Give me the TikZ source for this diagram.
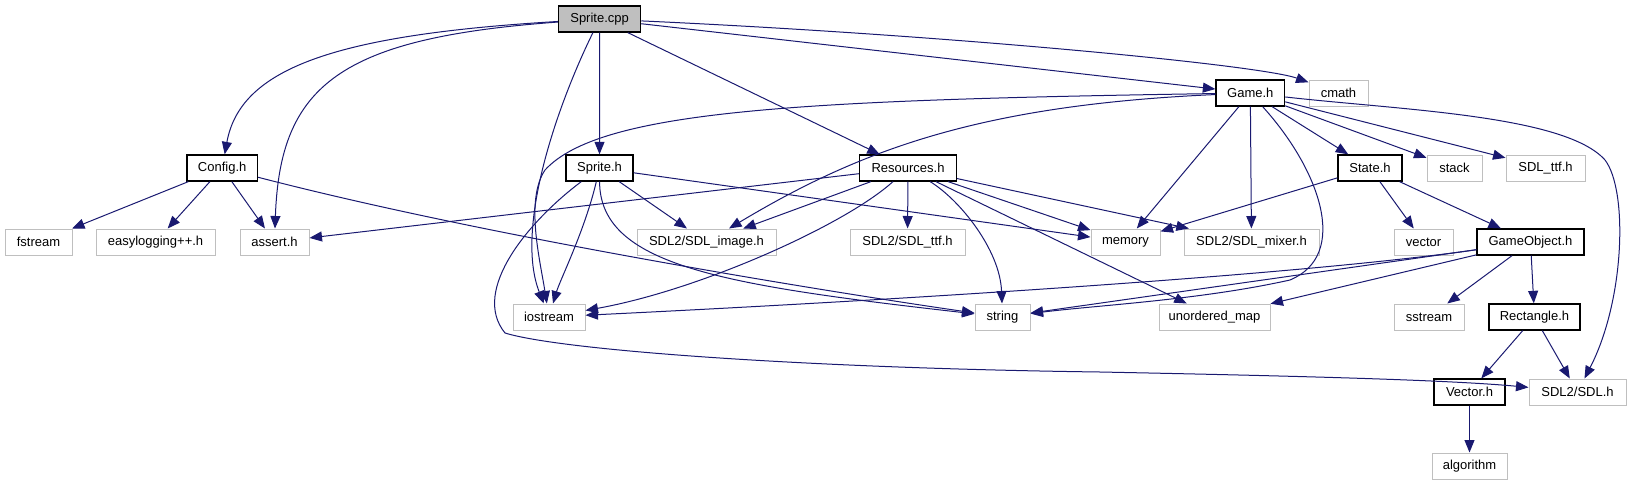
\documentclass[tikz,border=0pt]{standalone}
\usepackage{fontspec}
\setmainfont{Liberation Sans}
\usetikzlibrary{arrows.meta}
\definecolor{edgeblue}{HTML}{191970}
\definecolor{leafgray}{HTML}{BFBFBF}
\begin{document}
\begin{tikzpicture}[x=1pt,y=-1pt,
  box/.style={draw, rectangle, minimum height=26pt, inner sep=0pt, font=\fontsize{13}{15}\selectfont, line width=1pt},
  docbox/.style={box, draw=black, line width=1.3pt},
  leafbox/.style={box, draw=leafgray},
  rootbox/.style={box, draw=black, fill=leafgray, line width=1.3pt},
  edge/.style={draw=edgeblue, line width=1pt, -{Triangle[length=12.5pt,width=10pt]}}]
\useasboundingbox (0,0) rectangle (1631,485);
% row 0
\node[rootbox, minimum width=82pt] (spritecpp) at (599.6,19) {Sprite.cpp};
% row 1
\node[docbox, minimum width=68.6pt] (gameh) at (1250.3,93) {Game.h};
\node[leafbox, minimum width=59pt] (cmath) at (1338.5,93) {cmath};
% row 2
\node[docbox, minimum width=70.5pt] (config) at (222.2,168) {Config.h};
\node[docbox, minimum width=67pt] (spriteh) at (599.5,168) {Sprite.h};
\node[docbox, minimum width=97pt] (resources) at (908,168) {Resources.h};
\node[docbox, minimum width=64pt] (stateh) at (1370,168) {State.h};
\node[leafbox, minimum width=55pt] (stack) at (1454.5,168) {stack};
\node[leafbox, minimum width=79pt] (sdlttfh) at (1545.5,168) {SDL\_ttf.h};
% row 3
\node[leafbox, minimum width=67pt] (fstream) at (38.5,242) {fstream};
\node[leafbox, minimum width=119pt] (easylog) at (155.5,242) {easylogging++.h};
\node[leafbox, minimum width=69pt] (assert) at (274.5,242) {assert.h};
\node[leafbox, minimum width=139pt] (sdlimage) at (706.5,242) {SDL2/SDL\_image.h};
\node[leafbox, minimum width=115pt] (sdlttf) at (907.5,242) {SDL2/SDL\_ttf.h};
\node[leafbox, minimum width=69pt] (memory) at (1125.5,242) {memory};
\node[leafbox, minimum width=135pt] (mixer) at (1251.5,242) {SDL2/SDL\_mixer.h};
\node[leafbox, minimum width=59pt] (vector) at (1423.5,242) {vector};
\node[docbox, minimum width=107pt] (gameobject) at (1530.5,242) {GameObject.h};
% row 4
\node[leafbox, minimum width=72pt] (iostream) at (549,317) {iostream};
\node[leafbox, minimum width=55pt] (string) at (1002.5,317) {string};
\node[leafbox, minimum width=111pt] (unorderedmap) at (1214.5,317) {unordered\_map};
\node[leafbox, minimum width=70pt] (sstream) at (1429,317) {sstream};
\node[docbox, minimum width=91pt] (rectangle) at (1534.5,317) {Rectangle.h};
% row 5
\node[docbox, minimum width=71pt] (vectorh) at (1469.5,392) {Vector.h};
\node[leafbox, minimum width=97pt] (sdl) at (1577.5,392) {SDL2/SDL.h};
% row 6
\node[leafbox, minimum width=75pt] (algorithm) at (1469.5,466) {algorithm};

% Sprite.cpp
\draw[edge] (spritecpp) .. controls (330,35) and (240,70) .. (config);
\draw[edge] (spritecpp) .. controls (340,38) and (280,85) .. (assert);
\draw[edge] (spritecpp) .. controls (555,110) and (515,230) .. (iostream);
\draw[edge] (spritecpp) -- (spriteh);
\draw[edge] (spritecpp) -- (resources);
\draw[edge] (spritecpp) -- (gameh);
\draw[edge] (spritecpp) .. controls (950,35) and (1260,65) .. (cmath);
% Game.h
\draw[edge] (gameh) .. controls (800,100) and (600,110) .. (545,170) .. controls (525,200) and (540,260) .. (iostream);
\draw[edge] (gameh) .. controls (980,105) and (860,150) .. (sdlimage);
\draw[edge] (gameh) -- (memory);
\draw[edge] (gameh) -- (mixer);
\draw[edge] (gameh) .. controls (1320,170) and (1350,255) .. (1290,280) .. controls (1200,300) and (1100,305) .. (string);
\draw[edge] (gameh) -- (stateh);
\draw[edge] (gameh) -- (stack);
\draw[edge] (gameh) -- (sdlttfh);
\draw[edge] (gameh) .. controls (1400,110) and (1565,115) .. (1605,160) .. controls (1628,190) and (1625,300) .. (sdl);
% Sprite.h
\draw[edge] (spriteh) -- (sdlimage);
\draw[edge] (spriteh) -- (memory);
\draw[edge] (spriteh) .. controls (600,265) and (720,285) .. (string);
\draw[edge] (spriteh) .. controls (585,230) and (560,280) .. (iostream);
\draw[edge] (spriteh) .. controls (530,220) and (470,290) .. (505,333) .. controls (560,350) and (800,368) .. (1100,372) .. controls (1300,376) and (1450,380) .. (sdl);
% Resources.h
\draw[edge] (resources) -- (assert);
\draw[edge] (resources) -- (sdlimage);
\draw[edge] (resources) -- (sdlttf);
\draw[edge] (resources) .. controls (845,225) and (700,290) .. (iostream);
\draw[edge] (resources) -- (memory);
\draw[edge] (resources) -- (mixer);
\draw[edge] (resources) .. controls (960,200) and (1000,250) .. (string);
\draw[edge] (resources) -- (unorderedmap);
% Config.h
\draw[edge] (config) -- (fstream);
\draw[edge] (config) -- (easylog);
\draw[edge] (config) -- (assert);
\draw[edge] (config) .. controls (500,240) and (850,295) .. (string);
% State.h
\draw[edge] (stateh) -- (memory);
\draw[edge] (stateh) -- (vector);
\draw[edge] (stateh) -- (gameobject);
% GameObject.h
\draw[edge] (gameobject) .. controls (1300,275) and (900,300) .. (iostream);
\draw[edge] (gameobject) -- (string);
\draw[edge] (gameobject) -- (unorderedmap);
\draw[edge] (gameobject) -- (sstream);
\draw[edge] (gameobject) -- (rectangle);
% Rectangle.h
\draw[edge] (rectangle) -- (vectorh);
\draw[edge] (rectangle) -- (sdl);
% Vector.h
\draw[edge] (vectorh) -- (algorithm);
\end{tikzpicture}
\end{document}
